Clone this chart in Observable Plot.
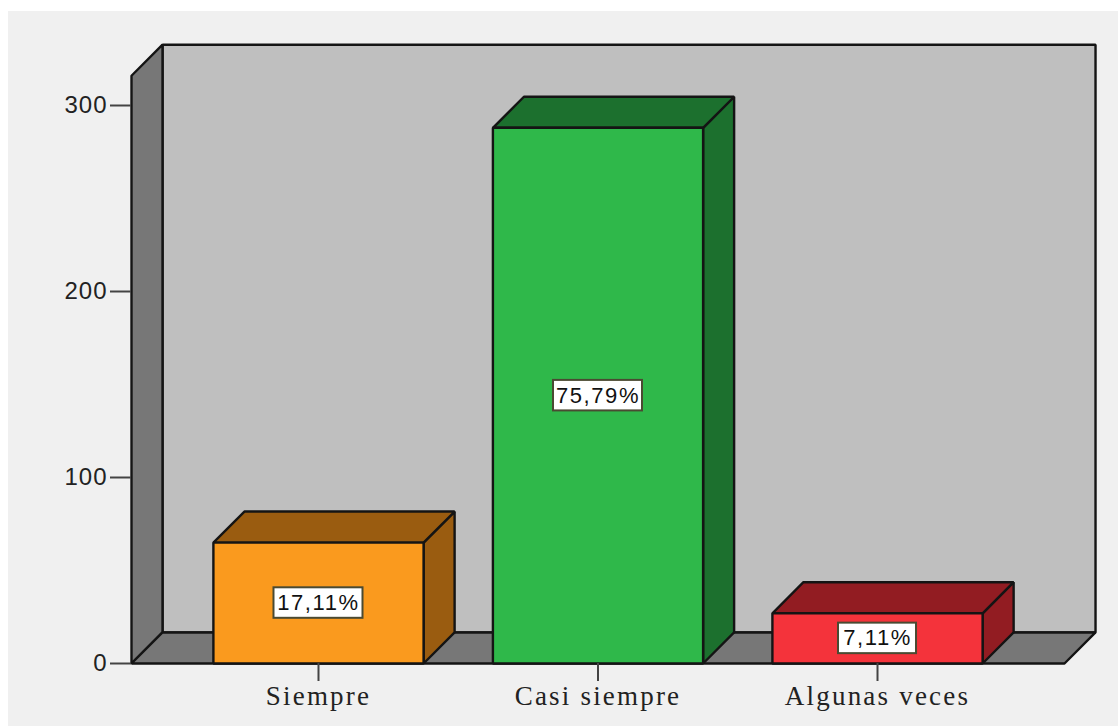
<!DOCTYPE html>
<html>
<head>
<meta charset="utf-8">
<script src="https://cdn.jsdelivr.net/npm/d3@7"></script>
<script src="https://cdn.jsdelivr.net/npm/@observablehq/plot@0.6"></script>
<style>
  html, body { margin: 0; padding: 0; background: #fff; overflow: hidden; }
  #chart { position: absolute; left: 8px; top: 11px; }
  #chart svg { display: block; background: #f0f0f0; }
  .bar-label text { letter-spacing: 1.6px; }
  .cat-axis text { letter-spacing: 2.2px; }
  .count-axis text { letter-spacing: 1px; }
</style>
</head>
<body>
<div id="chart"></div>
<script>
// Survey answers, counted per category, with the percentage shown on each bar
const categories = ["Siempre", "Casi siempre", "Algunas veces"];
const counts = [65, 288, 27];
const percentLabels = ["17,11%", "75,79%", "7,11%"];
const frontColors = ["#fa9a1e", "#2fb84a", "#f4333b"];
const shadeColors = ["#9a5c10", "#1c702e", "#921c22"];
const yTicks = [0, 100, 200, 300];

// Extents of the pseudo-3D box, in data units of the two scales
const xMin = -0.669, xMax = 2.669;
const barHalf = 0.376;
const depthX = 0.111, depthY = 16.7;
const wallTop = 316;
const ink = "#141414";

const width = 1110, height = 715;

const face = (points, fill) => Plot.line(points, {
  x: "x", y: "y", fill, stroke: ink, strokeWidth: 2.4,
  curve: "linear-closed", strokeLinejoin: "miter"
});

const walls = [
  face([{x: xMin + depthX, y: depthY}, {x: xMax + depthX, y: depthY},
        {x: xMax + depthX, y: wallTop + depthY}, {x: xMin + depthX, y: wallTop + depthY}], "#bfbfbf"),
  face([{x: xMin, y: 0}, {x: xMin + depthX, y: depthY},
        {x: xMin + depthX, y: wallTop + depthY}, {x: xMin, y: wallTop}], "#777777"),
  face([{x: xMin, y: 0}, {x: xMax, y: 0},
        {x: xMax + depthX, y: depthY}, {x: xMin + depthX, y: depthY}], "#777777")
];

const bars = categories.flatMap((_, i) => {
  const l = i - barHalf, r = i + barHalf, v = counts[i];
  return [
    face([{x: r, y: 0}, {x: r + depthX, y: depthY},
          {x: r + depthX, y: v + depthY}, {x: r, y: v}], shadeColors[i]),
    face([{x: l, y: v}, {x: r, y: v},
          {x: r + depthX, y: v + depthY}, {x: l + depthX, y: v + depthY}], shadeColors[i]),
    face([{x: l, y: 0}, {x: r, y: 0}, {x: r, y: v}, {x: l, y: v}], frontColors[i])
  ];
});

// Boxed percentage labels centred on each bar's front face
const labelRows = categories.map((_, i) => ({
  i, mid: counts[i] / 2, text: percentLabels[i],
  halfW: (11.5 + 5.5 * percentLabels[i].length) / 279.5
}));

const plot = Plot.plot({
  width, height,
  marginLeft: 123, marginRight: 54,
  marginTop: 94, marginBottom: 63,
  x: {type: "linear", domain: [xMin, xMax], axis: null},
  y: {domain: [0, 300], axis: null},
  marks: [
    ...walls,
    ...bars,
    Plot.rect(labelRows, {
      x1: d => d.i - d.halfW, x2: d => d.i + d.halfW,
      y1: d => d.mid - 8.2, y2: d => d.mid + 8.2,
      fill: "#ffffff", stroke: "#4a4a32", strokeWidth: 2
    }),
    Plot.text(labelRows, {
      x: "i", y: "mid", text: "text",
      fontFamily: "Liberation Sans", fontSize: 22, fill: "#111",
      className: "bar-label"
    }),
    Plot.axisY({
      ticks: yTicks, tickSize: 21, tickPadding: 3, label: null,
      stroke: "#444", strokeWidth: 2, fill: "#222",
      fontFamily: "Liberation Sans", fontSize: 24, className: "count-axis"
    }),
    Plot.axisX({
      ticks: [0, 1, 2], tickFormat: i => categories[i], tickSize: 18, tickPadding: 4, label: null,
      stroke: "#444", strokeWidth: 2, fill: "#222",
      fontFamily: "Liberation Serif", fontSize: 27, className: "cat-axis"
    })
  ]
});

document.getElementById("chart").append(plot);
</script>
</body>
</html>
